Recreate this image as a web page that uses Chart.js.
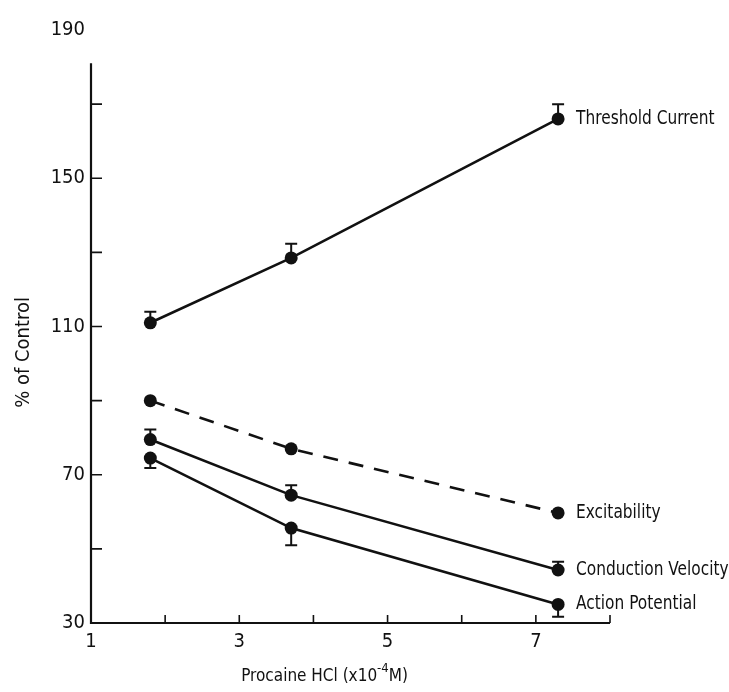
<!DOCTYPE html>
<html>
<head>
<meta charset="utf-8">
<script src="https://cdn.jsdelivr.net/npm/chart.js@4.4.1/dist/chart.umd.min.js"></script>
<style>
  html, body { margin: 0; padding: 0; background: #fff; }
  canvas { display: block; }
</style>
</head>
<body>
<canvas id="chart" width="729" height="692"></canvas>
<script>
// Procaine HCl concentration (x10^-4 M)
const doses = [1.8, 3.7, 7.3];

// % of control at each concentration
const thresholdCurrent = [111, 128.5, 166];
const excitability = [90, 77, 59.7];
const conductionVelocity = [79.5, 64.5, 44.3];
const actionPotential = [74.5, 55.6, 35];

// standard error bars (one-sided)
const thresholdErrUp = [3, 3.8, 4];
const conductionErrUp = [2.7, 2.7, 2.2];
const actionErrDown = [2.7, 4.6, 3.3];

const seriesNames = ['Threshold Current', 'Excitability', 'Conduction Velocity', 'Action Potential'];
const yTickLabels = [30, 70, 110, 150, 190];
const xTickLabels = [1, 3, 5, 7];

const FONT = '"Liberation Sans Narrow", "DejaVu Sans Condensed", "Liberation Sans", sans-serif';
const INK = '#111';

const toPoints = vals => vals.map((v, i) => ({ x: doses[i], y: v }));

function lineSet(label, vals, errUp, errDown, dash) {
  return {
    label,
    data: toPoints(vals),
    errUp: errUp || null,
    errDown: errDown || null,
    borderColor: INK,
    backgroundColor: INK,
    borderWidth: 2.6,
    borderDash: dash || [],
    pointRadius: 6.5,
    pointBackgroundColor: INK,
    pointBorderWidth: 0,
    tension: 0
  };
}

const datasets = [
  lineSet(seriesNames[0], thresholdCurrent, thresholdErrUp),
  lineSet(seriesNames[1], excitability, null, null, [15, 11]),
  lineSet(seriesNames[2], conductionVelocity, conductionErrUp),
  lineSet(seriesNames[3], actionPotential, null, actionErrDown)
];

// axes, inward ticks, error bars and text labels
const decorations = {
  id: 'decorations',
  afterDatasetsDraw(chart) {
    const { ctx } = chart;
    const xs = chart.scales.x, ys = chart.scales.y;
    ctx.save();
    ctx.strokeStyle = INK;
    ctx.fillStyle = INK;
    ctx.lineCap = 'butt';

    // error bars with caps
    ctx.lineWidth = 2;
    chart.data.datasets.forEach(ds => {
      ds.data.forEach((p, i) => {
        const px = xs.getPixelForValue(p.x);
        const y0 = ys.getPixelForValue(p.y);
        const ends = [];
        if (ds.errUp) ends.push(ys.getPixelForValue(p.y + ds.errUp[i]));
        if (ds.errDown) ends.push(ys.getPixelForValue(p.y - ds.errDown[i]));
        ends.forEach(y1 => {
          ctx.beginPath();
          ctx.moveTo(px, y0);
          ctx.lineTo(px, y1);
          ctx.moveTo(px - 6, y1);
          ctx.lineTo(px + 6, y1);
          ctx.stroke();
        });
      });
    });

    // axis lines
    const x0 = xs.getPixelForValue(1);
    const yb = ys.getPixelForValue(30);
    ctx.lineWidth = 2.2;
    ctx.beginPath();
    ctx.moveTo(x0, ys.getPixelForValue(181));
    ctx.lineTo(x0, yb);
    ctx.lineTo(xs.getPixelForValue(8), yb);
    ctx.stroke();

    // tick marks pointing into the plot
    ctx.lineWidth = 1.6;
    ctx.beginPath();
    for (let v = 50; v <= 170; v += 20) {
      const y = ys.getPixelForValue(v);
      ctx.moveTo(x0, y);
      ctx.lineTo(x0 + 11, y);
    }
    for (let v = 2; v <= 8; v++) {
      const x = xs.getPixelForValue(v);
      ctx.moveTo(x, yb);
      ctx.lineTo(x, yb - 8);
    }
    ctx.stroke();

    // series names next to the last point, in a condensed lettering
    ctx.font = '19px ' + FONT;
    ctx.textAlign = 'left';
    ctx.textBaseline = 'middle';
    chart.data.datasets.forEach(ds => {
      const last = ds.data[ds.data.length - 1];
      const lx = xs.getPixelForValue(last.x) + 18;
      ctx.save();
      ctx.translate(lx, ys.getPixelForValue(last.y));
      ctx.scale(0.9, 1);
      ctx.fillText(ds.label, 0, 0);
      ctx.restore();
    });

    // y axis title
    ctx.save();
    ctx.translate(24, ys.getPixelForValue(103));
    ctx.rotate(-Math.PI / 2);
    ctx.textAlign = 'center';
    ctx.font = '20px ' + FONT;
    ctx.fillText('% of Control', 0, 0);
    ctx.restore();

    // x axis title with superscript exponent
    const parts = [['Procaine HCl (x10', 17, 0], ['-4', 13, -8], ['M)', 17, 0]];
    let total = 0;
    parts.forEach(([t, s]) => { ctx.font = s + 'px ' + FONT; total += ctx.measureText(t).width; });
    let tx = xs.getPixelForValue(4.15) - total / 2;
    ctx.textAlign = 'left';
    parts.forEach(([t, s, dy]) => {
      ctx.font = s + 'px ' + FONT;
      ctx.fillText(t, tx, 677 + dy);
      tx += ctx.measureText(t).width;
    });

    ctx.restore();
  }
};

new Chart(document.getElementById('chart'), {
  type: 'line',
  data: { datasets },
  options: {
    responsive: false,
    animation: false,
    layout: { padding: { top: 30, right: 119, left: 0, bottom: 0 } },
    plugins: { legend: { display: false }, tooltip: { enabled: false } },
    scales: {
      x: {
        type: 'linear',
        min: 1,
        max: 8,
        grid: { display: false, drawTicks: false },
        border: { display: false },
        ticks: {
          stepSize: 1,
          padding: 7,
          color: INK,
          font: { family: FONT, size: 20 },
          callback: v => xTickLabels.includes(v) ? String(v) : ''
        },
        afterFit: s => { s.height = 69; }
      },
      y: {
        min: 30,
        max: 190,
        grid: { display: false, drawTicks: false },
        border: { display: false },
        ticks: {
          stepSize: 20,
          padding: 6,
          color: INK,
          font: { family: FONT, size: 20 },
          callback: v => yTickLabels.includes(v) ? String(v) : ''
        },
        afterFit: s => { s.width = 91; }
      }
    }
  },
  plugins: [decorations]
});
</script>
</body>
</html>
